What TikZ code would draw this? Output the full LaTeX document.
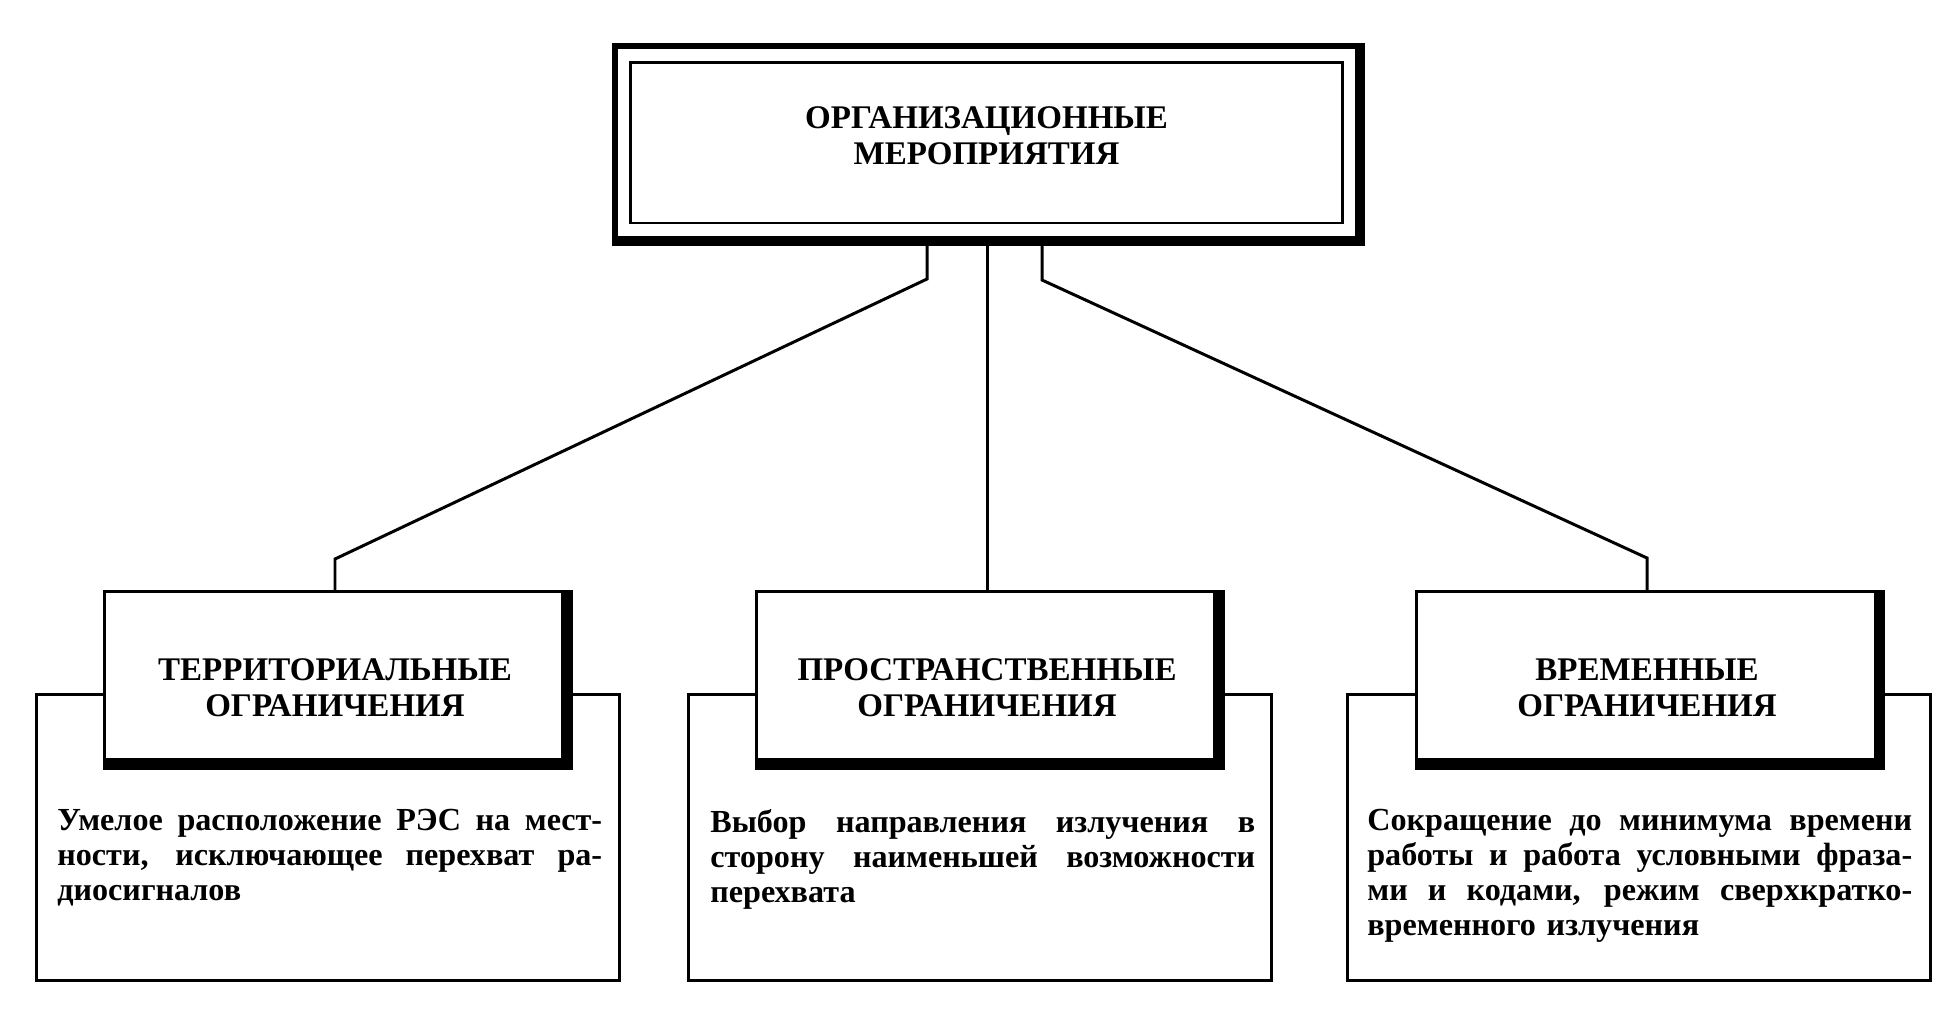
\documentclass[tikz,border=0pt]{standalone}
\usepackage{fontspec}
\setmainfont{Liberation Serif}
\usepackage{tikz}

\newcommand{\fullline}[1]{\makebox[10.9cm][s]{\spaceskip=0pt\xspaceskip=0pt\relax #1}}

\begin{document}
\begin{tikzpicture}[x=0.02cm, y=-0.02cm, line join=miter,
		top_style/.style={rectangle,draw=black,line width=3.4pt,fill=white,minimum width=14.86cm,minimum height=3.86cm,inner sep=0pt},
		frame_style/.style={rectangle,draw=black,line width=1.7pt,minimum width=14.26cm,minimum height=3.22cm},
		title_style/.style={rectangle,draw=black,line width=1.7pt,fill=white,minimum width=9.24cm,minimum height=3.43cm},
		caps_style/.style={align=center,inner sep=0pt,font=\bfseries\fontsize{18.8pt}{20.5pt}\selectfont},
		desc_style/.style={rectangle,draw=black,line width=1.7pt,minimum width=11.66cm,minimum height=5.72cm},
		text_style/.style={anchor=north west,text width=10.9cm,inner sep=0pt,align=left,font=\bfseries\fontsize{18.3pt}{19.9pt}\selectfont},
		shadow_style/.style={draw=black,line width=#1},
		edge_style/.style={draw=black,line width=1.7pt}]

		\useasboundingbox (0,0) rectangle (1950,1009);

		% top box
		\node[top_style] (org) at (986.5,142.5) {};
		\node[frame_style] (org_in) at (org.center) {};
		\draw[shadow_style=4.6pt] (org.north east) -- (org.south east) -- (org.south west);
		\node[caps_style] (org_txt) at ([yshift=0.14cm]org.center) {ОРГАНИЗАЦИОННЫЕ\\МЕРОПРИЯТИЯ};

		% lower boxes
		\node[desc_style] (d1) at (328,837.5) {};
		\node[desc_style] (d2) at (980,837.5) {};
		\node[desc_style] (d3) at (1639,837.5) {};

		\node[title_style] (t1) at (335,677) {};
		\node[title_style] (t2) at (987,677) {};
		\node[title_style] (t3) at (1647,677) {};
		\draw[shadow_style=6.8pt] (t1.north east) -- (t1.south east) -- (t1.south west);
		\draw[shadow_style=6.8pt] (t2.north east) -- (t2.south east) -- (t2.south west);
		\draw[shadow_style=6.8pt] (t3.north east) -- (t3.south east) -- (t3.south west);

		\node[caps_style] (l1) at ([yshift=-0.22cm]t1.center) {ТЕРРИТОРИАЛЬНЫЕ\\ОГРАНИЧЕНИЯ};
		\node[caps_style] (l2) at ([yshift=-0.22cm]t2.center) {ПРОСТРАНСТВЕННЫЕ\\ОГРАНИЧЕНИЯ};
		\node[caps_style] (l3) at ([yshift=-0.22cm]t3.center) {ВРЕМЕННЫЕ\\ОГРАНИЧЕНИЯ};

		\node[text_style] (s1) at (57,809) {\fullline{Умелое расположение РЭС на мест-}\\
			\fullline{ности, исключающее перехват ра-}\\
			диосигналов};
		\node[text_style] (s2) at (710,809) {\fullline{Выбор направления излучения в}\\
			\fullline{сторону наименьшей возможности}\\
			перехвата};
		\node[text_style] (s3) at (1367,809) {\fullline{Сокращение до минимума времени}\\
			\fullline{работы и работа условными фраза-}\\
			\fullline{ми и кодами, режим сверхкратко-}\\
			временного излучения};

		% connectors
		\coordinate (c1) at (927,279);
		\coordinate (c2) at (335,559);
		\coordinate (c3) at (1042,280);
		\coordinate (c4) at (1647,558);

		\draw[edge_style] (org.south -| c1) -- (c1) -- (c2) -- (t1.north);
		\draw[edge_style] (org.south -| t2.north) -- (t2.north);
		\draw[edge_style] (org.south -| c3) -- (c3) -- (c4) -- (t3.north);

\end{tikzpicture}
\end{document}
